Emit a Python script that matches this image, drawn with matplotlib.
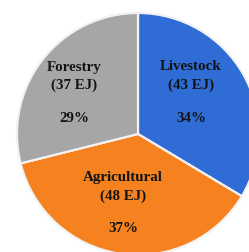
import matplotlib
matplotlib.use("Agg")
import matplotlib.pyplot as plt

categories = ["Livestock", "Agricultural", "Forestry"]
energy_ej = [43, 48, 37]
percent_labels = ["34%", "37%", "29%"]
colors = ["#2F6CD6", "#F5821F", "#A6A6A6"]

W, H = 249, 252
fig = plt.figure(figsize=(W / 100, H / 100), dpi=100)
ax = fig.add_axes([0, 0, 1, 1])
ax.set_xlim(0, W)
ax.set_ylim(0, H)
ax.set_aspect("equal")
ax.axis("off")

cx, cy, r = 138, 252 - 134, 121
wedges, _ = ax.pie(energy_ej, colors=colors, startangle=90, counterclock=False,
                   center=(cx, cy), radius=r, explode=[0.014] * 3,
                   wedgeprops=dict(edgecolor="#F2F2F2", linewidth=1.6))
ax.set_xlim(0, W)
ax.set_ylim(0, H)

font = dict(family="Liberation Serif", fontweight="bold", fontsize=10.8,
            color="#141414", ha="center", va="center")
label_pos = {"Livestock": (191, 67), "Agricultural": (123, 178), "Forestry": (74, 67)}
for cat, val, pct in zip(categories, energy_ej, percent_labels):
    x, y = label_pos[cat]
    ax.text(x, H - y, cat, **font)
    ax.text(x, H - (y + 18), f"({val} EJ)", **font)
    ax.text(x, H - (y + 51), pct, **font)

fig.savefig("out.png", dpi=100)
